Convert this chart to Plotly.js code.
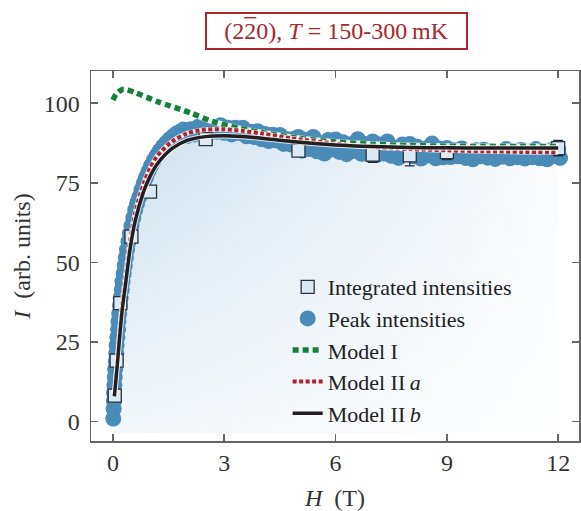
<!DOCTYPE html>
<html>
<head>
<meta charset="utf-8">
<script src="https://cdn.plot.ly/plotly-3.0.1.min.js"></script>
<style>html,body{margin:0;padding:0;background:#fff;}#chart{width:581px;height:511px;}</style>
</head>
<body>
<div id="chart"></div>
<script>
// ---- data ----
const peakH = [0.01,0.02,0.03,0.03,0.04,0.05,0.06,0.08,0.09,0.10,0.12,0.14,0.15,0.17,0.19,0.21,0.24,0.26,0.29,0.32,0.35,0.38,0.42,0.46,0.50,0.55,0.60,0.65,0.71,0.77,0.83,0.89,0.96,1.03,1.10,1.18,1.26,1.35,1.44,1.53,1.62,1.72,1.81,
1.9,2.0,2.1,2.2,2.3,2.4,2.5,2.6,2.7,2.8,2.9,3.0,3.1,3.2,3.3,3.4,3.5,3.6,3.7,3.8,3.9,4.0,4.1,4.2,4.3,4.4,4.5,4.6,4.7,4.8,4.9,
5.0,5.1,5.2,5.3,5.4,5.5,5.6,5.7,5.8,5.9,6.0,6.1,6.2,6.3,6.4,6.5,6.6,6.7,6.8,6.9,7.0,7.1,7.2,7.3,7.4,7.5,7.6,7.7,7.8,7.9,8.0,8.1,8.2,8.3,8.4,8.5,8.6,8.7,8.8,8.9,
9.0,9.1,9.2,9.3,9.4,9.5,9.6,9.7,9.8,9.9,10.0,10.1,10.2,10.3,10.4,10.5,10.6,10.7,10.8,10.9,11.0,11.1,11.2,11.3,11.4,11.5,11.6,11.7,11.8,11.9,12.0,12.05];
const peakI = [1.0,4.0,6.5,9.0,11.5,14.0,16.5,19.0,21.5,24.0,26.5,29.0,31.5,34.0,36.5,39.0,41.5,44.0,46.5,49.0,51.5,54.0,56.5,59.0,61.5,64.0,66.5,68.5,70.5,72.8,74.8,76.7,78.6,80.4,82.0,83.6,85.0,86.4,87.6,88.7,89.6,90.5,91.0,
91.7,89.7,91.8,90.2,92.6,91.2,93.2,90.8,92.5,91.0,93.1,90.7,92.3,90.2,92.3,90.6,92.3,89.6,91.0,89.4,91.2,88.7,90.3,88.1,90.1,88.3,90.0,87.2,88.7,87.0,88.9,
89.4,85.1,88.4,85.6,89.4,84.9,87.4,84.2,88.4,85.5,88.6,84.7,87.7,84.0,87.1,85.0,88.7,84.1,87.2,84.4,88.0,83.7,87.0,84.2,88.0,83.5,86.0,82.8,87.0,84.1,87.2,83.3,86.3,82.6,85.7,83.6,87.3,82.7,85.8,83.0,
85.9,83.1,85.2,83.3,85.8,82.8,84.45,82.4,85.2,83.35,85.4,82.9,84.9,82.5,84.6,83.2,85.6,82.7,84.7,83.0,85.3,82.6,84.8,83.0,85.6,82.7,84.4,82.4,85.2,83.35,85.4,82.8];

const intH   = [0.05,0.1,0.2,0.5,1.0,2.5,5,7,8,9,12];
const intI   = [8.2,19.2,37.2,58.1,72.2,88.7,85.1,83.8,83.6,84.6,85.9];
const intErr = [1.5,1.5,1.5,1.5,1.5,1.5,1.5,2.4,3.3,2.3,2.4];

const modelH   = [0.04,0.08,0.12,0.17,0.25,0.35,0.46,0.6,0.82,1.0,1.2,1.6,2.0,2.5,3.0,3.5,4.0,4.8,6,7,8,9,10,11,12];
const modelIIb = [8,13,18,25,35,44,54,63,72,77,81,85.8,88.3,89.5,89.8,89.5,89,88,86.9,86.4,86.1,86,85.9,85.9,85.9];
const modelIIa = [8,13.5,19,26.5,37,46.5,56.5,65.5,74.5,79.5,83.5,88,90.5,91.7,91.8,91.3,90.5,89,87.3,86.2,85.6,85.2,84.9,84.7,84.6];
const modelIH  = [0.0,0.1,0.28,0.6,1.2,2.1,2.7,3.4,4,5,6,7,8,9,10,11,12];
const modelI   = [101,103,104.4,103.3,100.5,96.9,94.2,92.1,90.8,89,87.8,87.1,86.7,86.5,86.4,86.4,86.4];

const xTicks = [0,3,6,9,12];
const yTicks = [0,25,50,75,100];

// ---- styling ----
const FONT = 'Liberation Serif, DejaVu Serif, serif';
const fillBase = -3.5;
const fillX = modelH.concat([modelH[modelH.length-1], modelH[0]]);
const fillY = modelIIb.concat([fillBase, fillBase]);
const tint = 'rgba(170,202,226,';
const wash = 'rgba(255,255,255,';

const traces = [
  {x: fillX, y: fillY, mode: 'none', fill: 'toself', showlegend: false, hoverinfo: 'skip',
   fillgradient: {type: 'horizontal', colorscale: [[0, tint+'0.58)'], [1, tint+'0.06)']]}},
  {x: fillX, y: fillY, mode: 'none', fill: 'toself', showlegend: false, hoverinfo: 'skip',
   fillgradient: {type: 'vertical', colorscale: [[0, wash+'0.75)'], [1, wash+'0)']]}},
  {x: peakH, y: peakI, mode: 'markers', name: 'Peak intensities', legendrank: 2,
   marker: {symbol: 'circle', size: 16, color: '#4a8bb8', line: {width: 0}}},
  {x: intH, y: intI, mode: 'markers', name: 'Integrated intensities', legendrank: 1,
   error_y: {type: 'data', array: intErr, visible: true, color: '#1f2a36', thickness: 1.3, width: 5},
   marker: {symbol: 'square', size: 13, color: '#dce9f3', line: {color: '#2a3340', width: 1.3}}},
  {x: modelIH, y: modelI, mode: 'lines', showlegend: false, hoverinfo: 'skip',
   line: {color: 'rgba(255,255,255,0.85)', width: 6, shape: 'spline', smoothing: 0.8}},
  {x: modelIH, y: modelI, mode: 'lines', name: 'Model I', legendrank: 3,
   line: {color: '#157f3b', width: 5.5, dash: '6px,4px', shape: 'spline', smoothing: 0.8}},
  {x: modelH, y: modelIIa, mode: 'lines', showlegend: false, hoverinfo: 'skip',
   line: {color: 'rgba(255,255,255,0.85)', width: 5, shape: 'spline', smoothing: 0.8}},
  {x: modelH, y: modelIIa, mode: 'lines', name: 'Model II\u2009<i>a</i>', legendrank: 4,
   line: {color: '#b3202c', width: 4, dash: '4px,2.5px', shape: 'spline', smoothing: 0.8}},
  {x: modelH, y: modelIIb, mode: 'lines', showlegend: false, hoverinfo: 'skip',
   line: {color: 'rgba(255,255,255,0.8)', width: 5.5, shape: 'spline', smoothing: 0.8}},
  {x: modelH, y: modelIIb, mode: 'lines', name: 'Model II\u2009<i>b</i>', legendrank: 5,
   line: {color: '#231f20', width: 3.5, shape: 'spline', smoothing: 0.8}}
];

const axisCommon = {
  showline: true, linecolor: '#666', linewidth: 1.5, mirror: 'ticks',
  ticks: 'inside', ticklen: 7, tickwidth: 1.5, tickcolor: '#666',
  showgrid: false, zeroline: false,
  tickfont: {family: FONT, size: 24, color: '#333'}
};

const layout = {
  width: 581, height: 511,
  margin: {l: 91, r: 2, t: 71, b: 70},
  paper_bgcolor: '#fff', plot_bgcolor: '#fff',
  showlegend: true,
  xaxis: Object.assign({}, axisCommon, {
    range: [-0.59, 12.56], tickvals: xTicks, ticktext: xTicks.map(String), ticklabelstandoff: 0,
    title: {text: '<i>H</i>  (T)', font: {family: FONT, size: 24, color: '#333'}, standoff: 14}
  }),
  yaxis: Object.assign({}, axisCommon, {
    range: [-6.06, 110.1], tickvals: yTicks, ticktext: yTicks.map(String), ticklabelstandoff: 5,
    title: {text: '<i>I</i>  (arb. units)', font: {family: FONT, size: 24, color: '#333'}, standoff: 6}
  }),
  legend: {x: 0.403, y: 0.473, xanchor: 'left', yanchor: 'top', bgcolor: 'rgba(0,0,0,0)',
    borderwidth: 0, font: {family: FONT, size: 22, color: '#222'}, traceorder: 'normal'},
  annotations: [{
    xref: 'paper', yref: 'paper', x: 0.503, y: 1.108, xanchor: 'center', yanchor: 'middle',
    text: '(2<span style="text-decoration:overline">2</span>0), <i>T</i> = 150-300\u2009mK', showarrow: false,
    font: {family: FONT, size: 24, color: '#a8262e'},
    bordercolor: '#b0232c', borderwidth: 2, borderpad: 3, width: 253, height: 28, bgcolor: '#fff'
  }]
};

Plotly.newPlot('chart', traces, layout, {staticPlot: true, displayModeBar: false});
</script>
</body>
</html>
